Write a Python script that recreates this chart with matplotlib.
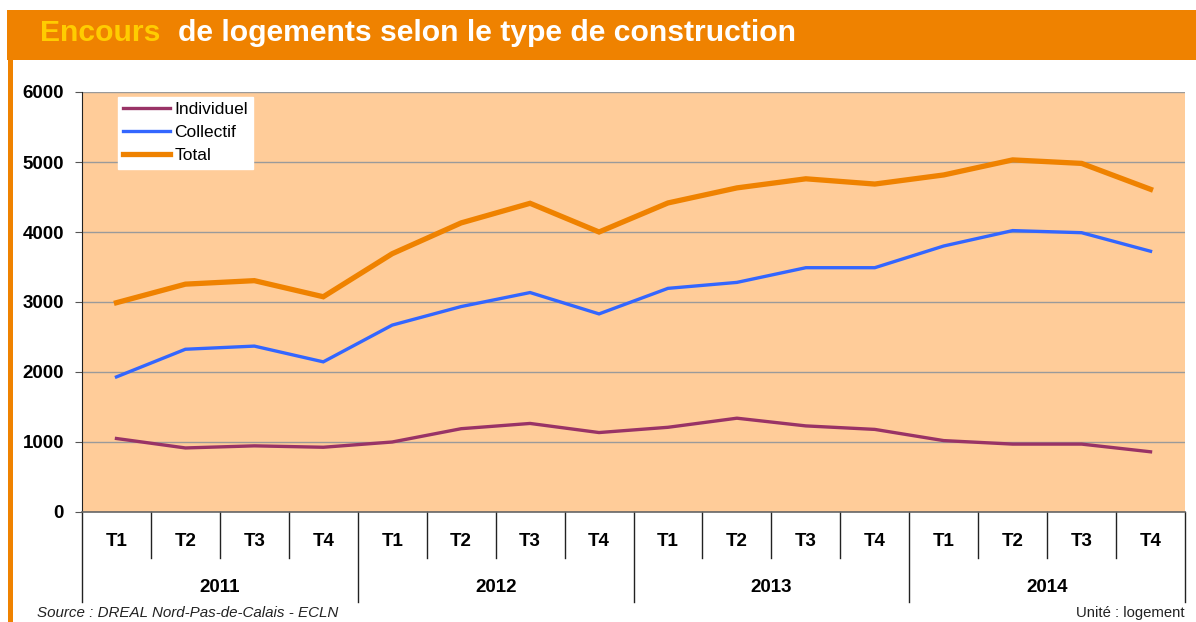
import matplotlib
matplotlib.use("Agg")
import matplotlib.pyplot as plt
from matplotlib.patches import Rectangle
import numpy as np

plt.rcParams['font.family'] = ['Liberation Sans', 'DejaVu Sans']

years = ['2011', '2012', '2013', '2014']
quarters = ['T1', 'T2', 'T3', 'T4']
individuel = [1050, 915, 945, 925, 1000, 1190, 1265, 1135, 1210, 1340, 1230, 1180, 1020, 970, 970, 860]
collectif = [1930, 2325, 2370, 2145, 2670, 2935, 3135, 2830, 3195, 3280, 3490, 3490, 3800, 4020, 3990, 3725]
total = [2990, 3255, 3305, 3075, 3690, 4130, 4410, 4000, 4415, 4630, 4760, 4685, 4815, 5030, 4980, 4610]
yticks = [0, 1000, 2000, 3000, 4000, 5000, 6000]

W, H = 1196, 622
fig = plt.figure(figsize=(W / 100, H / 100), dpi=100)
fig.patch.set_facecolor('white')

orange = '#EF8200'
# banner
fig.patches.append(Rectangle((7 / W, 1 - 60 / H), 1 - 7 / W, 50 / H, transform=fig.transFigure,
                             facecolor=orange, edgecolor='none', zorder=0))
# left vertical bar
fig.patches.append(Rectangle((8 / W, 0), 4.5 / W, 1 - 58 / H, transform=fig.transFigure,
                             facecolor=orange, edgecolor='none', zorder=0))

fig.text(40 / W, 1 - 33 / H, 'Encours', color='#FFCC00', fontsize=21.7, fontweight='bold', va='center')
fig.text(178 / W, 1 - 33 / H, 'de logements selon le type de construction', color='white',
         fontsize=21.7, fontweight='bold', va='center')

left, right, top, bottom = 82, 1185, 92, 512
ax = fig.add_axes([left / W, 1 - bottom / H, (right - left) / W, (bottom - top) / H])
ax.set_facecolor('#FFCC99')

x = np.arange(len(years) * len(quarters))
ax.plot(x, individuel, color='#993366', lw=2.4, label='Individuel', solid_joinstyle='miter', zorder=3)
ax.plot(x, collectif, color='#3366FF', lw=2.4, label='Collectif', solid_joinstyle='miter', zorder=3)
ax.plot(x, total, color=orange, lw=3.8, label='Total', solid_joinstyle='miter', zorder=3)

ax.set_xlim(-0.5, len(x) - 0.5)
ax.set_ylim(0, 6000)
ax.set_yticks(yticks)
ax.set_yticklabels([str(v) for v in yticks], fontsize=13.5, fontweight='bold')
ax.yaxis.grid(True, color='#9A9A9A', lw=1)
ax.set_axisbelow(True)
ax.tick_params(axis='y', length=5, color='#555555', pad=8, direction='out')

ax.set_xticks(x)
ax.set_xticklabels(quarters * len(years), fontsize=13.5, fontweight='bold')
ax.tick_params(axis='x', length=0, pad=15)

for s in ['top', 'right']:
    ax.spines[s].set_visible(False)
ax.spines['left'].set_color('#222222')
ax.spines['bottom'].set_color('#666666')
ax.spines['bottom'].set_linewidth(1.2)

trans = ax.get_xaxis_transform()
nq = len(quarters)
for i in range(len(x) + 1):
    ybot = -90 / 420 if i % nq == 0 else -46 / 420
    ax.plot([i - 0.5, i - 0.5], [0, ybot], transform=trans, color='#222222', lw=1, clip_on=False)
for j, yr in enumerate(years):
    ax.text(j * nq + (nq - 1) / 2, -75 / 420, yr, transform=trans, ha='center', va='center',
            fontsize=13.5, fontweight='bold')

leg = ax.legend(loc='upper left', bbox_to_anchor=((118 - left) / (right - left), (bottom - 97) / (bottom - top)),
                borderaxespad=0, frameon=True, fancybox=False, fontsize=12.5, handlelength=2.7,
                handletextpad=0.25, labelspacing=0.45, borderpad=0.3)
leg.get_frame().set_facecolor('white')
leg.get_frame().set_edgecolor('white')
leg.get_frame().set_alpha(1)

fig.text(37 / W, (H - 613) / H, 'Source : DREAL Nord-Pas-de-Calais - ECLN', fontsize=10.9,
         style='italic', va='center', color='#222222')
fig.text(1185 / W, (H - 613) / H, 'Unité : logement', fontsize=10.7, ha='right', va='center', color='#222222')

fig.savefig('out.png', dpi=100)
